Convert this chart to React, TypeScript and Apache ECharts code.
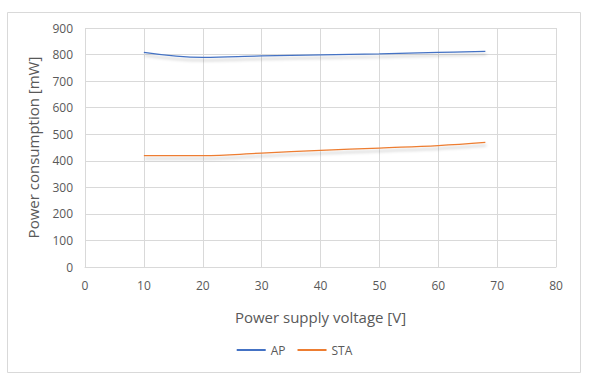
import React, { useEffect, useRef } from "react";
import * as echarts from "echarts";

const voltages = [10, 20, 30, 40, 50, 60, 68];
const apValues = [808, 789, 795, 799, 803, 808, 812];
const staValues = [419, 419, 429, 439, 448, 457, 469];
const seriesNames = ["AP", "STA"];
const xTitle = "Power supply voltage [V]";
const yTitle = "Power consumption [mW]";

export default function App() {
  const ref = useRef<HTMLDivElement>(null);
  useEffect(() => {
    if (!ref.current) return;
    const chart = echarts.init(ref.current, undefined, { renderer: "svg" });
    const font = "'Open Sans', 'Liberation Sans', sans-serif";
    const textColor = "#595959";
    const gridColor = "#d9d9d9";
    const mk = (vals: number[]) => voltages.map((v, i) => [v, vals[i]]);
    const lineStyle = (color: string) => ({
      color,
      width: 1.25,
      shadowColor: "rgba(0,0,0,0.25)",
      shadowBlur: 3,
      shadowOffsetY: 3,
      shadowOffsetX: 1,
    });
    chart.setOption({
      animation: false,
      backgroundColor: "#fff",
      textStyle: { fontFamily: font },
      graphic: [
        {
          type: "rect",
          shape: { x: 7.5, y: 12.5, width: 573, height: 360 },
          style: { fill: "none", stroke: "#d9d9d9", lineWidth: 1 },
          silent: true,
        },
      ],
      grid: { left: 85, right: 33, top: 28, bottom: 108, containLabel: false },
      xAxis: {
        type: "value",
        min: 0,
        max: 80,
        interval: 10,
        name: xTitle,
        nameLocation: "middle",
        nameGap: 42,
        nameTextStyle: { color: textColor, fontSize: 15, fontFamily: font },
        axisLine: { show: true, lineStyle: { color: gridColor } },
        axisTick: { show: false },
        axisLabel: { color: textColor, fontSize: 12, margin: 12, fontFamily: font },
        splitLine: { show: true, lineStyle: { color: gridColor } },
      },
      yAxis: {
        type: "value",
        min: 0,
        max: 900,
        interval: 100,
        name: yTitle,
        nameLocation: "middle",
        nameGap: 45,
        nameRotate: 90,
        nameTextStyle: { color: textColor, fontSize: 15, fontFamily: font },
        axisLine: { show: false },
        axisTick: { show: false },
        axisLabel: { color: textColor, fontSize: 12, margin: 12, fontFamily: font },
        splitLine: { show: true, lineStyle: { color: gridColor } },
      },
      legend: {
        bottom: 14,
        left: "center",
        itemWidth: 29,
        itemHeight: 2,
        itemGap: 12,
        icon: "rect",
        textStyle: { color: textColor, fontSize: 12, fontFamily: font },
        data: seriesNames,
      },
      series: [
        {
          name: seriesNames[0],
          type: "line",
          data: mk(apValues),
          smooth: 0.4,
          showSymbol: false,
          symbol: "none",
          lineStyle: lineStyle("#4472C4"),
          itemStyle: { color: "#4472C4" },
        },
        {
          name: seriesNames[1],
          type: "line",
          data: mk(staValues),
          smooth: 0.4,
          showSymbol: false,
          symbol: "none",
          lineStyle: lineStyle("#ED7D31"),
          itemStyle: { color: "#ED7D31" },
        },
      ],
    });
    return () => chart.dispose();
  }, []);
  return (
    <div
      ref={ref}
      style={{ position: "absolute", left: 0, top: 0, width: 589, height: 375 }}
    />
  );
}
